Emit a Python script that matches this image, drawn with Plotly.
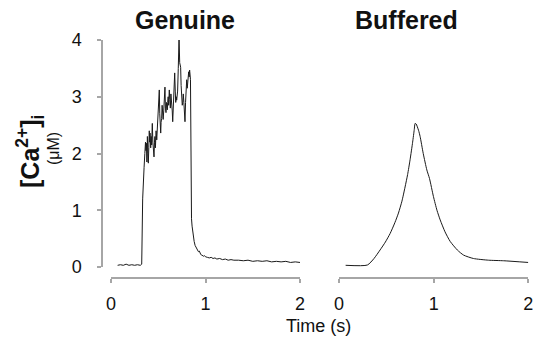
import plotly.graph_objects as go

# ---- data ----
genuine_t = [0.07, 0.10, 0.13, 0.16, 0.19, 0.22, 0.25, 0.28, 0.31, 0.325, 0.335, 0.342, 0.35, 0.358,
             0.365, 0.370, 0.375, 0.38, 0.385, 0.39, 0.395, 0.40, 0.405, 0.41, 0.413, 0.42, 0.425,
             0.43, 0.437, 0.443, 0.45, 0.455, 0.46, 0.465, 0.47, 0.477, 0.484, 0.49, 0.495, 0.50,
             0.505, 0.511, 0.516, 0.52, 0.526, 0.53, 0.536, 0.541, 0.547, 0.552, 0.558, 0.564,
             0.571, 0.576, 0.582, 0.588, 0.596, 0.60, 0.605, 0.61, 0.617, 0.622, 0.628, 0.634,
             0.642, 0.648, 0.653, 0.658, 0.664, 0.669, 0.674, 0.68, 0.685, 0.69, 0.695, 0.70,
             0.705, 0.712, 0.716, 0.720, 0.727, 0.732, 0.737, 0.742, 0.748, 0.754, 0.759, 0.765,
             0.771, 0.777, 0.783, 0.789, 0.795, 0.801, 0.807, 0.812, 0.817, 0.822, 0.827, 0.832,
             0.836, 0.841, 0.845, 0.848, 0.852, 0.858, 0.865, 0.871, 0.88, 0.89, 0.9, 0.907,
             0.915, 0.925, 0.935, 0.942, 0.95, 0.96, 0.97, 0.98, 0.99, 1.0, 1.02, 1.04, 1.06,
             1.08, 1.1, 1.12, 1.15, 1.18, 1.21, 1.24, 1.27, 1.3, 1.35, 1.4, 1.45, 1.5, 1.55,
             1.6, 1.65, 1.7, 1.75, 1.8, 1.85, 1.9, 1.95, 2.0]
genuine_ca = [0.03, 0.04, 0.03, 0.05, 0.03, 0.04, 0.03, 0.04, 0.03, 0.05, 1.2, 1.6, 1.75, 2.0,
              2.2, 2.05, 2.18, 1.85, 2.3, 2.0, 1.83, 2.1, 2.4, 2.2, 2.36, 2.1, 2.3,
              2.15, 2.53, 2.2, 2.05, 1.94, 2.2, 2.3, 2.1, 2.4, 2.24, 2.45, 2.35, 2.6,
              2.75, 3.12, 2.7, 2.5, 2.36, 2.55, 2.62, 2.85, 2.71, 2.6, 2.75, 2.95,
              3.17, 2.8, 2.72, 2.9, 2.77, 2.9, 3.0, 2.85, 3.12, 2.95, 2.8, 3.05,
              2.94, 2.75, 2.56, 2.8, 3.0, 3.2, 3.42, 3.1, 2.9, 3.0, 2.94, 3.05,
              3.1, 3.5, 4.0, 4.05, 3.6, 3.55, 3.52, 3.2, 2.95, 2.85, 2.89, 3.05,
              2.9, 2.7, 2.56, 2.9, 3.1, 3.3, 3.15, 3.35, 3.25, 3.44, 3.35, 3.47,
              3.4, 3.3, 1.9, 1.0, 0.85, 0.72, 0.62, 0.53, 0.45, 0.38, 0.34, 0.31,
              0.3, 0.27, 0.28, 0.25, 0.22, 0.21, 0.2, 0.19, 0.2, 0.18, 0.17, 0.16, 0.17,
              0.15, 0.16, 0.14, 0.15, 0.13, 0.14, 0.12, 0.13, 0.12, 0.12, 0.11, 0.12, 0.1, 0.11,
              0.1, 0.11, 0.09, 0.1, 0.09, 0.1, 0.08, 0.09, 0.08]

buffered_t = [0.07, 0.30, 0.37, 0.434, 0.49, 0.54, 0.59, 0.628, 0.665, 0.698, 0.725, 0.751,
              0.778, 0.795, 0.804, 0.815, 0.84, 0.857, 0.89, 0.928, 0.956, 0.998, 1.035,
              1.069, 1.12, 1.175, 1.25, 1.316, 1.42, 1.58, 1.74, 2.0]
buffered_ca = [0.03, 0.035, 0.15, 0.30, 0.44, 0.59, 0.78, 0.95, 1.16, 1.41, 1.63, 1.89,
               2.2, 2.42, 2.53, 2.52, 2.41, 2.30, 2.0, 1.71, 1.56, 1.24, 1.0,
               0.83, 0.62, 0.45, 0.3, 0.21, 0.15, 0.12, 0.11, 0.08]

titles = ["Genuine", "Buffered"]
tick_vals_x = [0, 1, 2]
tick_vals_y = [0, 1, 2, 3, 4]

# ---- figure ----
W, H = 536, 340
FONT = "Arial, Liberation Sans, Helvetica, sans-serif"
AX = "#a6a6a6"

def px(x):
    return x / W

def py(y):
    return 1 - y / H

fig = go.Figure()
fig.add_trace(go.Scatter(x=genuine_t, y=genuine_ca, mode="lines",
                         line=dict(color="#1a1a1a", width=1), xaxis="x", yaxis="y",
                         showlegend=False, hoverinfo="skip"))
fig.add_trace(go.Scatter(x=buffered_t, y=buffered_ca, mode="lines",
                         line=dict(color="#1a1a1a", width=1, shape="spline", smoothing=0.6),
                         xaxis="x2", yaxis="y2", showlegend=False, hoverinfo="skip"))

ydom = [py(267), py(40)]
xcommon = dict(range=[0, 2], tickvals=tick_vals_x, showgrid=False, zeroline=False,
               showline=True, linecolor=AX, linewidth=1.5, ticks="outside", ticklen=4,
               tickcolor=AX, tickwidth=1.5, tickfont=dict(family=FONT, size=18, color="#111"),
               anchor="free", position=py(278), ticklabelstandoff=6, automargin=False)

fig.update_layout(
    template="none",
    width=W, height=H, autosize=False, margin=dict(l=0, r=0, t=0, b=0, pad=0, autoexpand=False),
    paper_bgcolor="white", plot_bgcolor="white",
    xaxis=dict(domain=[px(111), px(300)], **xcommon),
    xaxis2=dict(domain=[px(339), px(528.3)], **xcommon),
    yaxis=dict(domain=ydom, range=[0, 4], tickvals=tick_vals_y, showgrid=False, zeroline=False,
               showline=True, linecolor=AX, linewidth=1.5, ticks="outside", ticklen=4,
               tickcolor=AX, tickwidth=1.5, tickfont=dict(family=FONT, size=18, color="#111"),
               anchor="free", position=px(102), ticklabelstandoff=12, automargin=False),
    yaxis2=dict(domain=ydom, range=[0, 4], visible=False, anchor="x2", automargin=False),
)

annotations = [
    dict(text="<b>%s</b>" % titles[0], x=px(185), y=py(20), xref="paper", yref="paper",
         xanchor="center", yanchor="middle", showarrow=False,
         font=dict(family=FONT, size=25, color="#111")),
    dict(text="<b>%s</b>" % titles[1], x=px(406), y=py(20), xref="paper", yref="paper",
         xanchor="center", yanchor="middle", showarrow=False,
         font=dict(family=FONT, size=25, color="#111")),
    dict(text="<b>[Ca<sup>2+</sup>]<sub>i</sub></b>", x=px(30), y=py(152), xref="paper",
         yref="paper", xanchor="center", yanchor="middle", textangle=-90, showarrow=False,
         font=dict(family=FONT, size=25, color="#111")),
    dict(text="(μM)", x=px(53), y=py(149), xref="paper", yref="paper",
         xanchor="center", yanchor="middle", textangle=-90, showarrow=False,
         font=dict(family=FONT, size=16, color="#111")),
    dict(text="Time (s)", x=px(318), y=py(326), xref="paper", yref="paper",
         xanchor="center", yanchor="middle", showarrow=False,
         font=dict(family=FONT, size=18, color="#111")),
]
fig.update_layout(annotations=annotations)

fig.write_html("out.html")
